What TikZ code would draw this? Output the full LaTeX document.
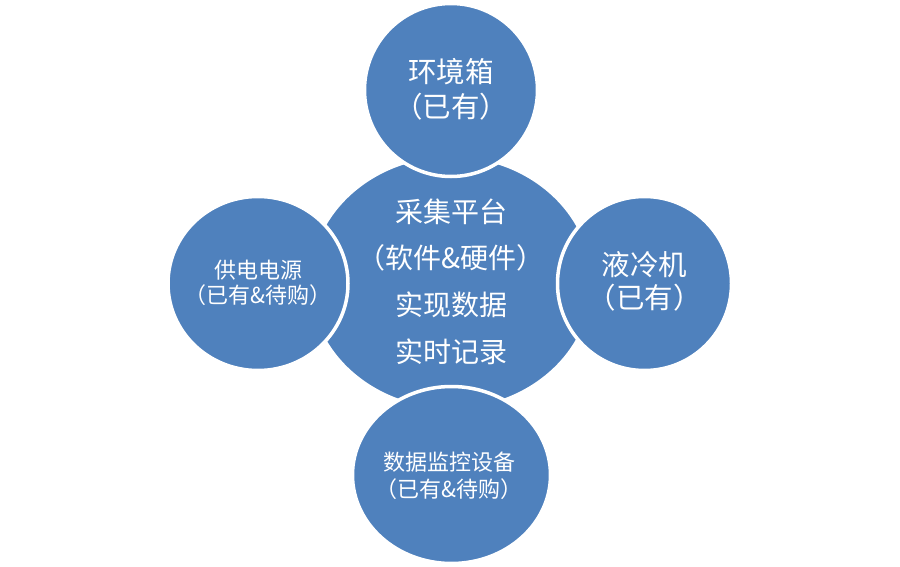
\documentclass[tikz,border=0pt]{standalone}
\usepackage{fontspec}
\setmainfont{Noto Sans CJK SC}
\usetikzlibrary{shapes.geometric}
\definecolor{blobblue}{HTML}{4F81BD}
\tikzset{
  blob/.style={ellipse, fill=blobblue, draw=white, line width=3.5pt, inner sep=0pt},
  bigtxt/.style={text=white, align=center, inner sep=0pt},
}
\begin{document}
\begin{tikzpicture}[x=1pt,y=-1pt]
\useasboundingbox (0,0) rectangle (900,567);
% central
\node[blob, minimum width=284pt, minimum height=254pt] (core) at (451,282.5) {};
\node[bigtxt, font=\fontsize{28}{46.7}\selectfont] (coretxt) at (451,281.5)
  {采集平台\\（软件\&硬件）\\实现数据\\实时记录};
% satellites
\node[blob, minimum width=173pt, minimum height=173pt] (topc) at (451,90) {};
\node[bigtxt, font=\fontsize{28.5}{35}\selectfont] (toptxt) at (451,89)
  {环境箱\\（已有）};
\node[blob, minimum width=180pt, minimum height=174pt] (leftc) at (258,283.5) {};
\node[bigtxt, font=\fontsize{22}{25}\selectfont] (lefttxt) at (258,282.5)
  {供电电源\\（已有\&待购）};
\node[blob, minimum width=174pt, minimum height=174pt] (rightc) at (644.5,283.5) {};
\node[bigtxt, font=\fontsize{28.5}{33}\selectfont] (righttxt) at (644.5,281.5)
  {液冷机\\（已有）};
\node[blob, minimum width=198pt, minimum height=177pt] (botc) at (451.5,475) {};
\node[bigtxt, font=\fontsize{22}{26.7}\selectfont] (bottxt) at (449,476)
  {数据监控设备\\（已有\&待购）};
\end{tikzpicture}
\end{document}
